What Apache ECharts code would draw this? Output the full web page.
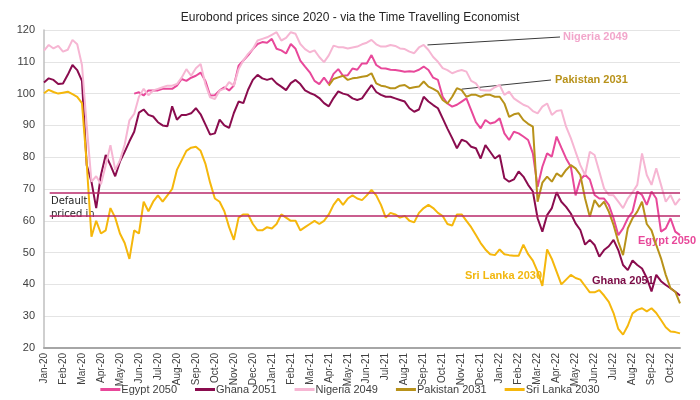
<!DOCTYPE html>
<html>
<head>
<meta charset="utf-8">
<script src="https://cdn.jsdelivr.net/npm/echarts@6/dist/echarts.min.js"></script>
<style>
  html, body { margin: 0; padding: 0; background: #fff; }
  #main { width: 700px; height: 400px; }
</style>
</head>
<body>
<div id="main"></div>
<script>
// month tick labels (one per month, Jan-20 .. Oct-22)
const months = ['Jan-20','Feb-20','Mar-20','Apr-20','May-20','Jun-20','Jul-20','Aug-20','Sep-20','Oct-20','Nov-20','Dec-20',
  'Jan-21','Feb-21','Mar-21','Apr-21','May-21','Jun-21','Jul-21','Aug-21','Sep-21','Oct-21','Nov-21','Dec-21',
  'Jan-22','Feb-22','Mar-22','Apr-22','May-22','Jun-22','Jul-22','Aug-22','Sep-22','Oct-22'];

// weekly prices, 4 points per month starting at Jan-20
const egypt = [
  null,null,null,null, null,null,null,null, null,null,null,null, null,null,null,null,
  null,null,null,100, 100.4,99.4,101,101, 101,101.5,101.5,101.5, 102.5,104.6,104,105,
  105.6,106.6,104,99.4, 99.5,101,102,101, 102.5,108.8,110.4,112, 114,115.6,116.2,116,
  117.2,114.1,113.6,112.6, 115.6,114.1,110.4,108.5, 106.7,104,103,105, 103,106.2,107.7,105.6,
  105.8,107.9,107.5,109.5, 109.5,112.1,109,108, 107.9,107.5,107.4,107.2, 106.9,107,106.9,107.5,
  108.5,107.4,105,104.3, 99,96.9,95.9,96.5, 97.5,98.5,94.8,91, 89.1,91.7,90.6,91,
  92.2,87.5,85.4,88, 87.5,86.5,85.4,81.2, 70.7,77,81.2,80.2, 86.5,83,79.6,77,
  68,73,74.5,73, 68.1,67,67,65, 60.8,55.5,57.6,60.8, 62.9,69.2,68.1,65,
  69.2,67,56.6,57.6, 60.8,56.6,55.5
];
const ghana = [
  103.5,104.8,104.3,103, 103.2,105.9,109,107.4, 104,77.5,72.3,64, 74.4,80.7,77.5,74,
  78.6,81.7,85,88, 94,95,93.3,92.8, 91,90,89.7,96, 91.8,93.3,93.3,93.8,
  95.4,93.5,90.3,87.1, 87.5,91.8,90,89.2, 93.9,97.5,97,101.2, 104.3,105.9,104.8,104.3,
  104.8,103.2,102.2,101.1, 103.3,104.3,103,101, 100.2,99.6,98.6,97, 96,98.6,100.7,100,
  99.6,98.5,98,98.5, 100.6,102.7,100.5,99.6, 99,99,98.5,98, 97.5,95.4,94.3,95,
  99,97.5,96.4,95.4, 92.2,89,86,82.8, 85.5,84.9,83.3,82.8, 79.6,83.8,81.7,79.6,
  80.7,73.4,72.3,73, 75.5,73.9,71.3,69.2, 60.8,56.6,61.8,64, 69,66,64.4,62.3,
  59.2,57.1,52.5,54, 52.4,48.7,50.8,52, 54,50.8,46.1,44.5, 47.5,46.1,45,42,
  37.8,43,41,39.8, 38.8,37.7,36.5
];
const nigeria = [
  113.5,115.3,114.2,115, 113.2,113.8,116.9,115.5, 109,90,72.3,74, 71.5,77.5,83.8,76,
  79,84,91.6,93.6, 99,101.5,99.5,101, 101.5,102,102.5,102.5, 103,105,107.7,105.6,
  108,109.3,103,98.8, 98.3,101,101.5,103.6, 102.5,107.7,110.4,112.5, 114,116.7,117.2,117.7,
  118.5,119.3,116.7,117.5, 119.3,118.8,115.6,114, 113,113.6,111.5,109.9, 112,115.1,114.6,114.6,
  114.2,114.5,114.8,115.5, 116,116.9,115.5,114.8, 114.8,115.3,115,114.2, 114,113.2,112.7,114.5,
  115.3,113.7,111.5,110, 108,107.4,106.4,107, 107.4,106.9,104,103.2, 101.1,101,101,102,
  102.7,99.6,100.6,98.5, 97.5,96.5,95.9,94.5, 93.8,95.9,96.9,93.3, 94.5,94.8,89.6,86,
  81.7,77.5,74.4,81.7, 80.7,75.5,70.2,68.1, 68,66,64,67, 69,71.3,81.2,74.4,
  71.3,76.5,71.3,66, 68.1,65,67
];
const pakistan = [
  null,null,null,null, null,null,null,null, null,null,null,null, null,null,null,null,
  null,null,null,null, null,null,null,null, null,null,null,null, null,null,null,null,
  null,null,null,null, null,null,null,null, null,null,null,null, null,null,null,null,
  null,null,null,null, null,null,null,null, null,null,null,null, 102.5,104.6,105.1,105.6,
  104.3,104.8,105,105.3, 105.5,106.4,103.2,102.5, 102.2,101.7,101.7,102.5, 102.7,101.7,102,102.2,
  103.8,102.2,101.5,100.6, 98,96.9,99,101.7, 101.1,99,99.6,99.6, 99,99.6,99.6,99,
  99,96.9,92.7,93.5, 93.8,91.7,90.5,89.6, 66,72,73.9,72.3, 74.9,73.9,76,77.5,
  76.5,74.4,67,61.3, 66.5,64.4,66,62.9, 58.7,53.4,49.2,57.6, 60.8,62.9,66,59,
  57,52.4,48.2,43, 38.8,37.7,34
];
const sriLanka = [
  100.1,101.2,100.5,100, 100.3,100.6,99.8,99, 97,78,55,60, 56,57,64,61,
  56,53,48,57, 56,66,63,66, 68,66,68,70, 76,79,82,83,
  83.3,82,78,72, 67,66,63,58, 54,61,62,62, 59,57,57,58,
  57.6,59,62,61, 60,60,57,58, 59,60,59,60, 62,65,67,65,
  67,68,67,66.5, 68,69.7,68,65, 61,62.5,62,61, 61.5,60,59.5,62.5,
  64,65,64,62.5, 61.5,59,58.5,62, 62,60,58,55.5, 53,51,49.5,49.2,
  51,49.5,49.2,49, 49,52.5,49.5,47.5, 44,39.5,51,48, 44,40,41.5,43,
  42,41.5,39.5,37.5, 37.5,38.2,36.5,34.5, 31,26,24.2,27, 30.9,32,32.5,31.5,
  32.5,31,28.8,26.5, 25.2,25,24.6
];

// "default priced in" band
const defaultBand = [68.7, 61.5];
const step = 0.25; // months per point

const names = ['Egypt 2050', 'Ghana 2051', 'Nigeria 2049', 'Pakistan 2031', 'Sri Lanka 2030'];
const colors = ['#e8489a', '#8a0c4e', '#f6b6d3', '#b8921a', '#f5b70c'];
const values = [egypt, ghana, nigeria, pakistan, sriLanka];

const toPairs = arr => arr.map((v, i) => [i * step, v]);

const chart = echarts.init(document.getElementById('main'));

const series = values.map((arr, k) => ({
  name: names[k],
  type: 'line',
  data: toPairs(arr),
  showSymbol: false,
  symbol: 'none',
  lineStyle: { width: 2, color: colors[k] },
  itemStyle: { color: colors[k] },
  connectNulls: false,
  animation: false
}));

// band lines drawn as a mark line on the first series
series[0].markLine = {
  silent: true,
  symbol: 'none',
  label: { show: false },
  lineStyle: { color: '#b8286a', width: 1.5, type: 'solid' },
  data: defaultBand.map(y => [{ coord: [0.3, y] }, { coord: [33.5, y] }])
};

const font = 'Liberation Sans';

const option = {
  animation: false,
  title: {
    text: 'Eurobond prices since 2020 - via the Time Travelling Economist',
    left: 'center',
    top: 7,
    textStyle: { fontFamily: font, fontSize: 12, fontWeight: 'normal', color: '#262626' }
  },
  grid: { left: 44, right: 20, top: 30, bottom: 52 },
  legend: {
    bottom: 0,
    left: 'center',
    icon: 'rect',
    itemWidth: 20,
    itemHeight: 3,
    itemGap: 18,
    textStyle: { fontFamily: font, fontSize: 11, color: '#404040', padding: [0, 0, 0, -4] },
    data: names
  },
  xAxis: {
    type: 'value',
    min: 0,
    max: 33.5,
    interval: 1,
    splitLine: { show: false },
    axisTick: { show: false },
    axisLine: { lineStyle: { color: '#a6a6a6', width: 2 } },
    axisLabel: {
      rotate: 90,
      margin: 5,
      fontFamily: font,
      fontSize: 10,
      color: '#404040',
      showMaxLabel: false,
      formatter: v => (Number.isInteger(v) && months[v]) ? months[v] : ''
    }
  },
  yAxis: {
    type: 'value',
    min: 20,
    max: 120,
    interval: 10,
    axisLine: { show: true, lineStyle: { color: '#bfbfbf', width: 1.5 } },
    axisTick: { show: false },
    splitLine: { lineStyle: { color: '#e4e4e4', width: 1 } },
    axisLabel: { fontFamily: font, fontSize: 11, color: '#404040', margin: 9 }
  },
  series: series
};

chart.setOption(option);

// annotations: leader lines from points on the series to the labels
const pNig = chart.convertToPixel({ gridIndex: 0 }, [20.2, 115.3]);
const pPak = chart.convertToPixel({ gridIndex: 0 }, [22.0, 101.4]);
const labelFont = 'bold 11px "Liberation Sans"';

chart.setOption({
  graphic: [
    { type: 'line', shape: { x1: pNig[0], y1: pNig[1], x2: 560, y2: 37 }, style: { stroke: '#3a3a3a', lineWidth: 1 }, silent: true },
    { type: 'line', shape: { x1: pPak[0], y1: pPak[1], x2: 551, y2: 80 }, style: { stroke: '#3a3a3a', lineWidth: 1 }, silent: true },
    { type: 'text', left: 563, top: 31, style: { text: 'Nigeria 2049', font: labelFont, fill: '#f2a6cb' }, silent: true },
    { type: 'text', left: 555, top: 74, style: { text: 'Pakistan 2031', font: labelFont, fill: '#b8921a' }, silent: true },
    { type: 'text', left: 638, top: 235, style: { text: 'Egypt 2050', font: labelFont, fill: '#e8489a' }, silent: true },
    { type: 'text', left: 592, top: 275, style: { text: 'Ghana 2051', font: labelFont, fill: '#7a0a45' }, silent: true },
    { type: 'text', left: 465, top: 270, style: { text: 'Sri Lanka 2030', font: labelFont, fill: '#f2b70e' }, silent: true },
    { type: 'text', left: 51, top: 195, style: { text: 'Default\npriced in', font: '10px "DejaVu Sans"', fill: '#262626', lineHeight: 13 }, silent: true }
  ]
});
</script>
</body>
</html>
